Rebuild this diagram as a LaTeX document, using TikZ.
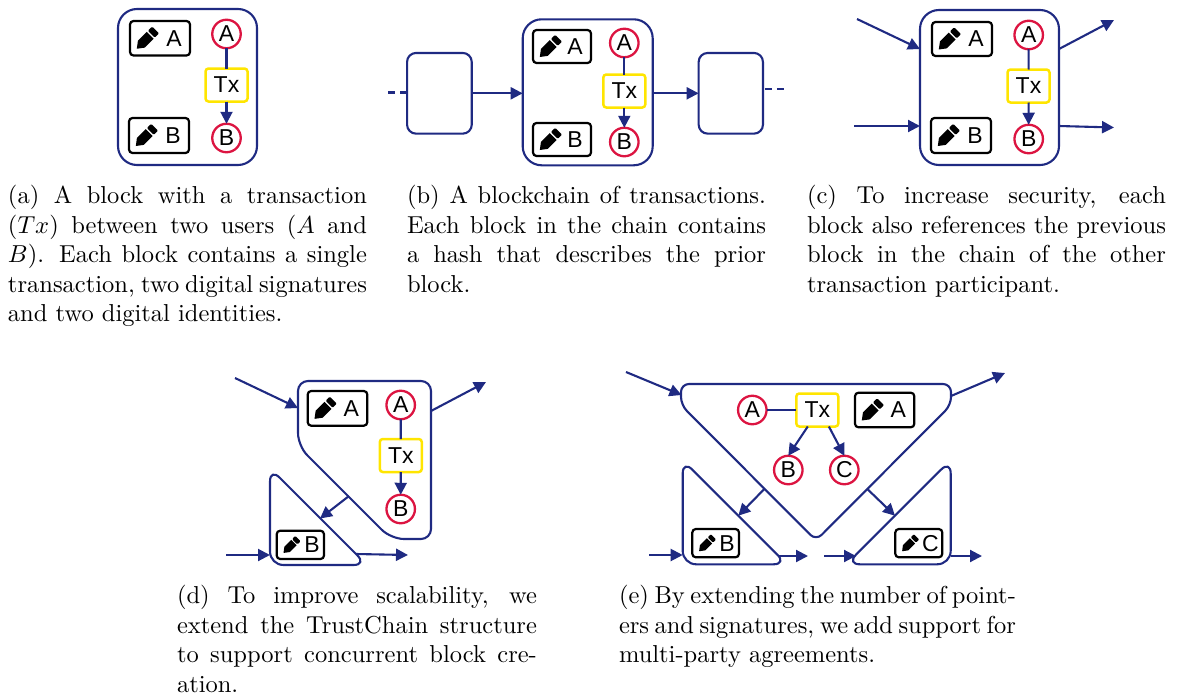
\documentclass[tikz,border=0pt]{standalone}
\usepackage{fontspec}
\usepackage{xcolor}
\usetikzlibrary{arrows.meta}
\newfontfamily\hvfont{Liberation Sans}
\definecolor{navy}{RGB}{31,42,130}
\definecolor{redc}{RGB}{220,20,65}
\definecolor{yellowc}{RGB}{255,229,0}
\tikzset{
  conn/.style={draw=navy,line width=2.1pt},
  arr/.style={conn,-{Triangle[length=12pt,width=12pt]}},
  blockbox/.style={draw=navy,line width=2.1pt,rectangle,rounded corners=19pt,inner sep=0,outer sep=0},
  smallbox/.style={blockbox,rounded corners=9pt},
  polyshape/.style={draw=navy,line width=2.1pt,line join=round},
  idc/.style={circle,draw=redc,fill=white,line width=2.3pt,minimum size=28.5pt,inner sep=0,outer sep=0,font=\hvfont\fontsize{23}{23}\selectfont},
  txb/.style={rectangle,draw=yellowc,fill=white,line width=2.5pt,rounded corners=3pt,minimum width=42pt,minimum height=33pt,inner sep=0,outer sep=0,font=\hvfont\fontsize{23}{23}\selectfont},
  sigb/.style={rectangle,draw=black,line width=2.2pt,rounded corners=3.5pt,inner sep=0,outer sep=0},
  sigl/.style={inner sep=0,outer sep=0,font=\hvfont\fontsize{23}{23}\selectfont},
  captxt/.style={anchor=north west,inner sep=0,outer sep=0,align=justify,scale=2.45,transform shape,font=\fontsize{10}{12}\selectfont}
}
% name, x1, y1, x2, y2, letter, pencil scale, letter offset from right
\newcommand\sigbox[8]{%
  \node[sigb,minimum width={#4-#2},minimum height={#5-#3}] (#1) at ({(#2+#4)/2},{(#3+#5)/2}) {};
  \node[sigl] (#1l) at ({#4-#8},{(#3+#5)/2}) {#6};
  \begin{scope}[shift={({#2+6.8},{(#3+#5)/2+10.5*#7})},rotate=45,scale=#7]
    \fill[black] (0,0)--(6.5,-4.9)--(19,-4.9)--(19,4.9)--(6.5,4.9)--cycle;
    \fill[black,rounded corners=1pt] (20.6,-4.9) rectangle (26.5,4.9);
  \end{scope}
}
\begin{document}
\begin{tikzpicture}[x=1pt,y=-1pt]
\useasboundingbox (0,0) rectangle (1178,696);
% ---------- (a)
\node[blockbox,minimum width=139pt,minimum height=156pt] (ablock) at (187.5,87) {};
\sigbox{asa}{130}{21}{190}{55.5}{A}{1}{16}
\sigbox{asb}{129}{118}{189}{153}{B}{1}{16}
\node[idc] (aca) at (226.5,34) {A};
\node[idc] (acb) at (226.5,138) {B};
\node[txb] (atx) at (226.5,85) {Tx};
\draw[conn] (aca) -- (atx);
\draw[arr] (atx) -- (acb);
% ---------- (b)
\node[blockbox,minimum width=130pt,minimum height=146pt] (bblock) at (587.7,92.3) {};
\node[smallbox,minimum width=64.7pt,minimum height=80.7pt] (bleft) at (439.4,93.3) {};
\node[smallbox,minimum width=64.3pt,minimum height=80.7pt] (bright) at (730.8,93.3) {};
\sigbox{bsa}{533}{30}{591}{63}{A}{1}{16}
\sigbox{bsb}{533}{123}{591}{156}{B}{1}{16}
\node[idc] (bca) at (624.3,43) {A};
\node[idc] (bcb) at (624.3,142) {B};
\node[txb] (btx) at (624.3,91) {Tx};
\draw[conn] (bca) -- (btx);
\draw[arr] (btx) -- (bcb);
\draw[arr] (bleft.east) -- (bblock.west |- bleft.east);
\draw[arr] (bblock.east |- bright.west) -- (bright.west);
\coordinate (bdl) at (388,92.5);
\coordinate (bdr) at (784,89);
\draw[conn,dash pattern=on 7pt off 5pt] (bdl) -- (bleft.west |- bdl);
\draw[conn,dash pattern=on 7pt off 5pt] (bright.east |- bdr) ++(2,0) -- (bdr);
% ---------- (c)
\node[blockbox,minimum width=139pt,minimum height=155pt] (cblock) at (989.5,87.5) {};
\sigbox{csa}{932}{22}{992}{56}{A}{1}{16}
\sigbox{csb}{931}{118}{991}{153}{B}{1}{16}
\node[idc] (cca) at (1028.7,35) {A};
\node[idc] (ccb) at (1028.7,139) {B};
\node[txb] (ctx) at (1028.5,86) {Tx};
\draw[conn] (cca) -- (ctx);
\draw[arr] (ctx) -- (ccb);
\coordinate (ci1) at (857,19);
\coordinate (ci1e) at (920,49);
\coordinate (ci2) at (854,126);
\coordinate (ci2e) at (920,126);
\coordinate (co1s) at (1059,49);
\coordinate (co1) at (1114,20);
\coordinate (co2s) at (1059,126);
\coordinate (co2) at (1114,127.5);
\draw[arr] (ci1) -- (ci1e);
\draw[arr] (ci2) -- (ci2e);
\draw[arr] (co1s) -- (co1);
\draw[arr] (co2s) -- (co2);
% ---------- (d)
\draw[polyshape,rounded corners=10pt] (360,381) -- (431,381) -- (431,539) {[rounded corners=13pt] -- (391,539) -- (298,446)} [rounded corners=10pt] -- (298,381) -- (360,381);
\draw[polyshape] (270,520) [rounded corners=13.5pt] -- (270,468) -- (367,565) -- (270,565) [rounded corners=8pt] -- (270,520);
\sigbox{dsa}{307.7}{391}{367.3}{425.7}{A}{1}{16}
\sigbox{dsb}{276.7}{530.7}{324}{559}{B}{.77}{12}
\node[idc] (dca) at (400.7,405) {A};
\node[idc] (dcb) at (400.7,509) {B};
\node[txb] (dtx) at (400.8,455.5) {Tx};
\draw[conn] (dca) -- (dtx);
\draw[arr] (dtx) -- (dcb);
\coordinate (di1) at (235,378);
\coordinate (di1e) at (298,408);
\coordinate (di2) at (226,555);
\coordinate (di2e) at (270,555);
\coordinate (do1s) at (356,554);
\coordinate (do1) at (486,382);
\coordinate (do1a) at (431,411);
\coordinate (do2) at (408,555);
\coordinate (dm) at (349,496);
\coordinate (dme) at (320,518.5);
\draw[arr] (di1) -- (di1e);
\draw[arr] (di2) -- (di2e);
\draw[arr] (do1a) -- (do1);
\draw[arr] (do1s) -- (do2);
\draw[arr] (dm) -- (dme);
% ---------- (e)
\draw[polyshape,rounded corners=8pt] (816,384) -- (951,384) -- (951,405) -- (816,540.5) -- (681,405) -- (681,384) -- (816,384);
\draw[polyshape] (682.7,520) [rounded corners=13.5pt] -- (682.7,460) -- (787,564.3) -- (682.7,564.3) [rounded corners=8pt] -- (682.7,520);
\draw[polyshape] (950.7,520) [rounded corners=13.5pt] -- (950.7,460) -- (846.4,564.3) -- (950.7,564.3) [rounded corners=8pt] -- (950.7,520);
\sigbox{esa}{855}{392.7}{914.3}{427.3}{A}{1}{16}
\sigbox{esb}{692.3}{529}{739}{557.3}{B}{.77}{12}
\sigbox{esc}{895.3}{529}{942.3}{557.3}{C}{.77}{12}
\node[idc] (eca) at (752.3,410) {A};
\node[idc] (ecb) at (788.3,470) {B};
\node[idc] (ecc) at (844.3,470) {C};
\node[txb] (etx) at (817.3,410) {Tx};
\draw[conn] (eca) -- (etx);
\draw[arr] (etx.-120) -- (ecb.north);
\draw[arr] (etx.-55) -- (ecc.north);
\coordinate (ei1) at (626,372);
\coordinate (ei1e) at (681.5,395);
\coordinate (ei2) at (649,555);
\coordinate (ei2e) at (682.7,555);
\coordinate (eo1s) at (951,396);
\coordinate (eo1) at (1005,373);
\coordinate (eb1) at (778,556);
\coordinate (eb2) at (808,556);
\coordinate (ec1) at (824,556);
\coordinate (ec2) at (856,556);
\coordinate (ed1) at (951,556);
\coordinate (ed2) at (982,556);
\coordinate (ema) at (764.3,489);
\coordinate (emae) at (738.3,515.7);
\coordinate (emb) at (867.3,489);
\coordinate (embe) at (895,515.7);
\draw[arr] (ei1) -- (ei1e);
\draw[arr] (ei2) -- (ei2e);
\draw[arr] (eo1s) -- (eo1);
\draw[arr] (eb1) -- (eb2);
\draw[arr] (ec1) -- (ec2);
\draw[arr] (ed1) -- (ed2);
\draw[arr] (ema) -- (emae);
\draw[arr] (emb) -- (embe);
% ---------- captions
\node[captxt,text width=146.5pt] (capa) at (8,185.5) {\emergencystretch=3em (a) A block with a transaction\linebreak ($Tx$) between two users ($A$ and\linebreak $B$). Each block contains a single\linebreak transaction, two digital signatures\linebreak and two digital identities.};
\node[captxt,text width=146.5pt] (capb) at (407,185.5) {\emergencystretch=3em (b) A blockchain of transactions.\linebreak Each block in the chain contains\linebreak a hash that describes the prior\linebreak block.};
\node[captxt,text width=146.5pt] (capc) at (807,185.5) {\emergencystretch=3em (c) To increase security, each\linebreak block also references the previous\linebreak block in the chain of the other\linebreak transaction participant.};
\node[captxt,text width=146.9pt] (capd) at (177,585.5) {\emergencystretch=3em (d) To improve scalability, we\linebreak extend the TrustChain structure\linebreak to support concurrent block cre-\linebreak ation.};
\node[captxt,text width=162pt] (cape) at (619,585.5) {\emergencystretch=3em (e) By extending the number of point-\linebreak ers and signatures, we add support for\linebreak multi-party agreements.};
\end{tikzpicture}
\end{document}
